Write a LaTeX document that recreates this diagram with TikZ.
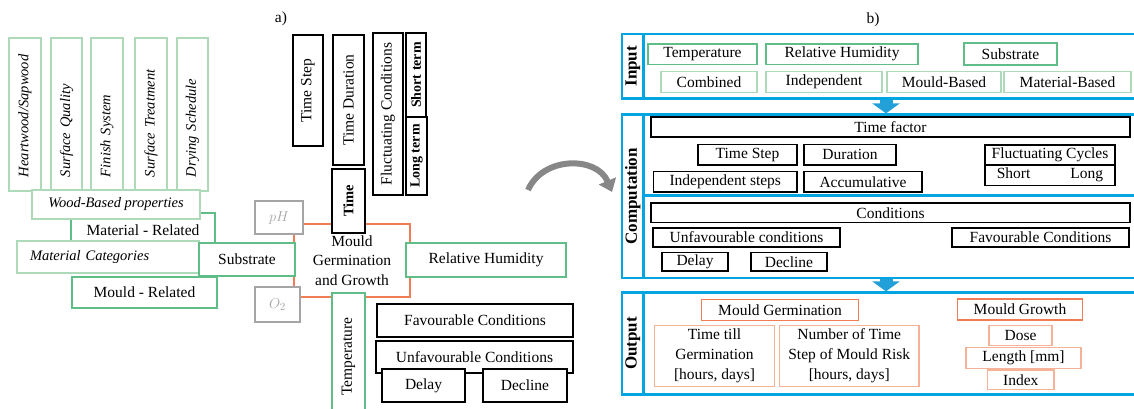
\documentclass[tikz,border=0pt]{standalone}
\usepackage{fontspec}
\setmainfont{Liberation Serif}
\usetikzlibrary{arrows.meta}

\definecolor{palegreen}{RGB}{175,218,185}
\definecolor{midgreen}{RGB}{95,190,135}
\definecolor{mouldorange}{RGB}{240,125,85}
\definecolor{lightorange}{RGB}{245,178,150}
\definecolor{panelblue}{RGB}{0,165,225}
\definecolor{arrowblue}{RGB}{35,160,215}
\definecolor{paramgray}{RGB}{165,165,165}
\definecolor{curvegray}{RGB}{135,135,135}

\begin{document}
\begin{tikzpicture}[x=1pt, y=-1pt,
        sz/.style 2 args={minimum width=#1pt, minimum height=#2pt},
        bx/.style={fill=white, inner sep=0pt, align=center, font=\fontsize{15.5}{19.8}\selectfont},
        greenpale/.style={bx, draw=palegreen, line width=1.2pt},
        greenbox/.style={bx, draw=midgreen, line width=1.4pt},
        blackbox/.style={bx, draw=black, line width=1.6pt},
        orangebox/.style={bx, draw=mouldorange, line width=1.4pt},
        outbox/.style={bx, draw=lightorange, line width=1.3pt},
        parambox/.style={bx, draw=paramgray, line width=1.2pt, text=paramgray},
        panel/.style={draw=panelblue, line width=2.2pt, inner sep=0pt},
        panellabel/.style={panel, rotate=90, align=center, font=\fontsize{17}{20}\selectfont\bfseries},
        vtext/.style={rotate=90},
        woodtext/.style={font=\fontsize{14.5}{17}\selectfont\itshape},
        flow/.style={draw=arrowblue, line width=13pt, -{Triangle[length=10pt,width=27pt]}}
    ]
        \useasboundingbox (0,0) rectangle (1134,408);

        \node[bx, fill=none] (alabel) at (281,19) {a)};

        \node[greenpale, woodtext, vtext, sz={153}{32}, text width=125pt, align=left] (heartwood) at (25,114.5) {\mbox{Heartwood/Sapwood}};
        \node[greenpale, woodtext, vtext, sz={153}{31}, text width=125pt, align=left] (surfqual) at (66.5,114.5) {Surface Quality};
        \node[greenpale, woodtext, vtext, sz={153}{32}, text width=125pt, align=left] (finish) at (107,114.5) {Finish System};
        \node[greenpale, woodtext, vtext, sz={153}{32}, text width=125pt, align=left] (surftreat) at (151,114.5) {Surface Treatment};
        \node[greenpale, woodtext, vtext, sz={153}{31}, text width=125pt, align=left] (drying) at (192.5,114.5) {Drying Schedule};

        \node[greenbox, sz={144}{34}] (matrel) at (143,230) {Material - Related};
        \node[greenpale, woodtext, sz={168}{29}] (woodprop) at (116,204.5) {Wood-Based properties};
        \node[greenpale, woodtext, sz={182}{32}, text width=156pt, align=left] (matcat) at (108,257) {Material Categories};
        \node[greenbox, sz={145}{31}] (mouldrel) at (144.5,292.5) {Mould - Related};

        \node[orangebox, sz={116}{73}] (mgg) at (352,260.5) {Mould\\Germination\\and Growth};
        \node[greenbox, sz={96}{33}] (substrate) at (247,259.5) {Substrate};
        \node[parambox, sz={48}{33}] (ph) at (279,217.5) {$pH$};
        \node[parambox, sz={45}{35}] (otwo) at (277.5,304.5) {$O_2$};

        \node[blackbox, vtext, sz={64}{33}, font=\fontsize{14.5}{17}\selectfont\bfseries] (time) at (348.5,201) {Time};
        \node[blackbox, vtext, sz={111}{30}] (timestep) at (308,90.5) {Time Step};
        \node[blackbox, vtext, sz={130}{31}] (timedur) at (348.5,100) {Time Duration};
        \node[blackbox, vtext, sz={162}{30}] (fluctcond) at (388,114) {Fluctuating Conditions};
        \node[blackbox, vtext, sz={84}{20}, font=\fontsize{14}{17}\selectfont\bfseries] (shortterm) at (416,75) {Short term};
        \node[blackbox, vtext, sz={78}{21}, font=\fontsize{14}{17}\selectfont\bfseries] (longterm) at (416.5,156) {Long term};

        \node[greenbox, sz={160}{34}] (relhum) at (486,260) {Relative Humidity};
        \node[greenbox, vtext, sz={127}{33}] (temperature) at (348.5,356.5) {Temperature};

        \node[blackbox, sz={196}{33}] (favcond) at (475,320.5) {Favourable Conditions};
        \node[blackbox, sz={197}{32}] (unfavcond) at (474.5,357) {Unfavourable Conditions};
        \node[blackbox, sz={83}{33}] (delaya) at (423.5,385.5) {Delay};
        \node[blackbox, sz={84}{33}] (declinea) at (525,385.5) {Decline};

        \coordinate (curvestart) at (528,190);
        \coordinate (curveend) at (612,192);
        \draw[curvegray, line width=6pt, -{Triangle[length=12pt,width=18pt]}] (curvestart) .. controls (543,156) and (597,156) .. (curveend);

        \node[bx, fill=none] (blabel) at (873,19.5) {b)};

        \node[panellabel, sz={64.5}{21.5}] (inlab) at (632.75,66.25) {Input};
        \node[panel, sz={501.5}{64.5}] (inbox) at (894.25,66.25) {};
        \node[panellabel, sz={163.5}{21.5}] (cmplab) at (632.75,196.25) {Computation};
        \node[panel, sz={501.5}{81}] (cmptop) at (894.25,155) {};
        \node[panel, sz={501.5}{82.5}] (cmpbot) at (894.25,236.75) {};
        \node[panellabel, sz={102}{21.5}] (outlab) at (632.75,343.5) {Output};
        \node[panel, sz={501.5}{102}] (outbox) at (894.25,343.5) {};

        \node[greenbox, sz={109}{20.5}] (intemp) at (702.5,54.25) {Temperature};
        \node[greenbox, sz={152}{20.5}] (inrh) at (842,54.25) {Relative Humidity};
        \node[greenbox, sz={93}{22}] (insub) at (1010.5,54) {Substrate};
        \node[greenpale, sz={96}{20.5}] (combined) at (709,82) {Combined};
        \node[greenpale, sz={116}{20.5}] (independent) at (824,82) {Independent};
        \node[greenpale, sz={114}{21}] (mouldbased) at (944,82) {Mould-Based};
        \node[greenpale, sz={127}{21}] (matbased) at (1067.5,82) {Material-Based};

        \node[blackbox, sz={479}{20}] (tfactor) at (890.5,127) {Time factor};
        \node[blackbox, sz={99}{20.5}] (tstep) at (747.5,154.75) {Time Step};
        \node[blackbox, sz={92}{20.5}] (duration) at (850,154.75) {Duration};
        \node[blackbox, sz={143.5}{20.5}] (indsteps) at (725.25,181.75) {Independent steps};
        \node[blackbox, sz={118}{20.5}] (accum) at (863,181.75) {Accumulative};
        \node[blackbox, sz={130}{20}] (fluctcyc) at (1050,155) {Fluctuating Cycles};
        \node[blackbox, sz={130}{20.5}] (shortlong) at (1050,175.25) {Short\hspace{40pt}Long};
        \node[blackbox, sz={479}{19.5}] (conditions) at (890.5,212.75) {Conditions};
        \node[blackbox, sz={187}{19}] (unfavb) at (746.5,237.5) {Unfavourable conditions};
        \node[blackbox, sz={177}{19}] (favb) at (1040.5,237.5) {Favourable Conditions};
        \node[blackbox, sz={66}{18.5}] (delayb) at (695,261.75) {Delay};
        \node[blackbox, sz={76.5}{18.5}] (declineb) at (789,261.75) {Decline};

        \node[orangebox, sz={157.5}{21}] (mgerm) at (780,310) {Mould Germination};
        \node[outbox, sz={120}{61}] (timetill) at (714.5,356) {Time till\\Germination\\{[hours, days]}};
        \node[outbox, sz={139.5}{61}] (numsteps) at (849.25,356) {Number of Time\\Step of Mould Risk\\{[hours, days]}};
        \node[orangebox, sz={125.5}{21}] (mgrowth) at (1020,309.5) {Mould Growth};
        \node[outbox, sz={63}{20}] (dose) at (1020.5,335.5) {Dose};
        \node[outbox, sz={115}{21}] (lengthmm) at (1023.5,358) {Length [mm]};
        \node[outbox, sz={66.5}{19.5}] (index) at (1020.75,379.75) {Index};

        \coordinate (flowx) at (886,0);
        \draw[flow] (inbox.south -| flowx) -- (cmptop.north -| flowx);
        \draw[flow] (cmpbot.south -| flowx) -- (outbox.north -| flowx);
    \end{tikzpicture}
\end{document}
